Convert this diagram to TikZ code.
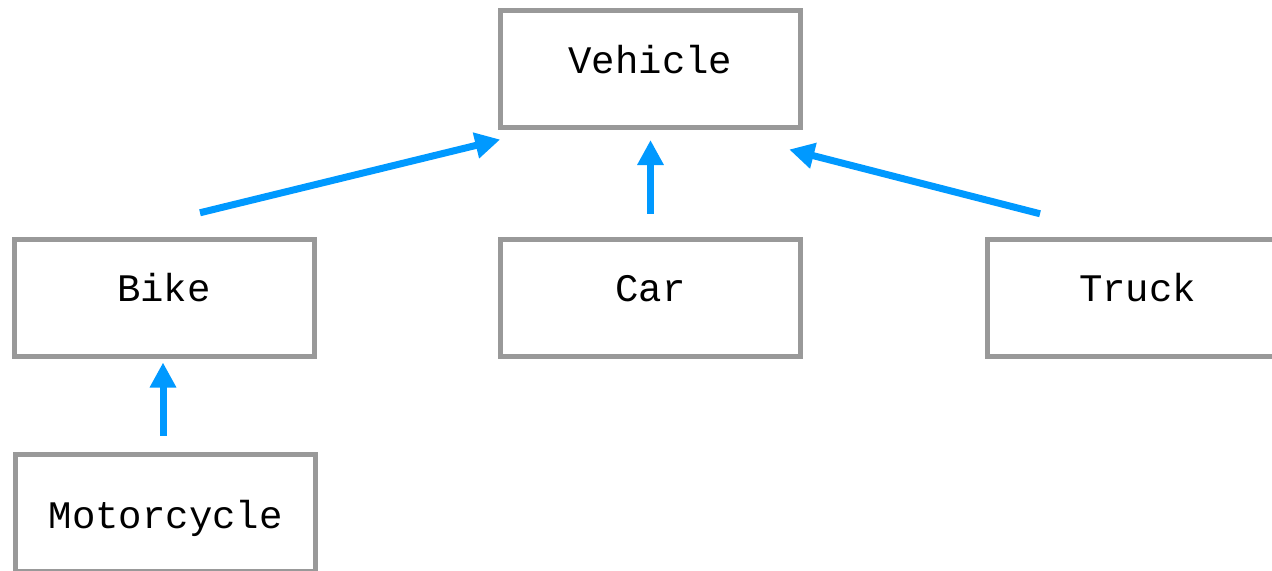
\documentclass[tikz,border=0pt]{standalone}
\usepackage{fontspec}
\setmonofont{Liberation Mono}
\usetikzlibrary{arrows.meta}
\definecolor{boxgray}{HTML}{999999}
\definecolor{arrblue}{HTML}{0099FF}
\tikzset{
  classbox/.style={draw=boxgray, line width=2.5pt, fill=white, minimum width=150pt, minimum height=58.5pt,
    inner sep=0pt, font=\ttfamily\fontsize{19.5pt}{23pt}\selectfont, text height=10pt, text depth=5.8pt},
  lowtext/.style={text height=18pt, text depth=2.2pt},
  inherit/.style={draw=arrblue, line width=3.5pt, -{Triangle[length=12.5pt,width=12.5pt]}}
}
\begin{document}
\begin{tikzpicture}[x=0.5pt,y=-0.5pt]
\path[use as bounding box, clip] (0,0) rectangle (1272,570);
\fill[white] (0,0) rectangle (1272,570);
\node[classbox] (vehicle) at (650.5,69) {Vehicle};
\node[classbox] (bike) at (164,297.75) {Bike};
\node[classbox] (car) at (650.5,297.75) {Car};
\node[classbox] (truck) at (1137.5,297.75) {Truck};
\node[classbox, lowtext] (moto) at (165.75,512.5) {Motorcycle};
\draw[inherit] ([shift={(36,-24)}]bike.north) -- ([shift={(2.2,9.5)}]vehicle.south west);
\draw[inherit] ([shift={(0,-23)}]car.north) -- ([shift={(0,10)}]vehicle.south);
\draw[inherit] ([shift={(-97.5,-23)}]truck.north) -- ([shift={(-13.8,19.5)}]vehicle.south east);
\draw[inherit] ([shift={(-2.75,-16)}]moto.north) -- ([shift={(-1,3.75)}]bike.south);
\end{tikzpicture}
\end{document}
